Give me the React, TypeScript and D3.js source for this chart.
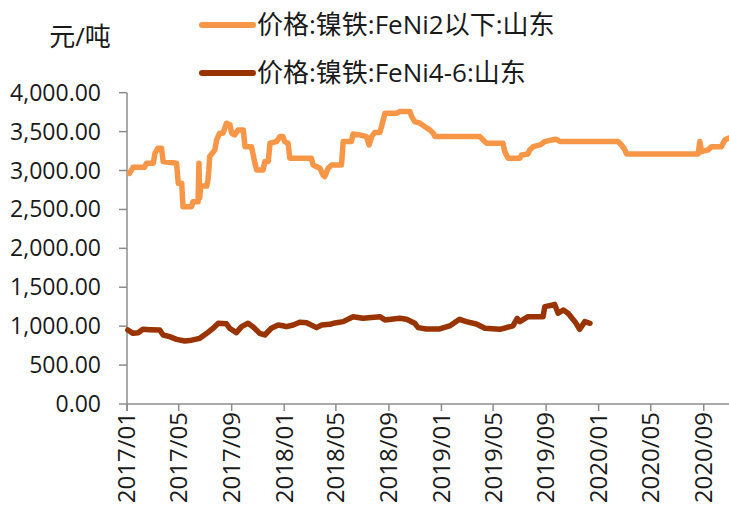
import React from "react";
import * as d3 from "d3";

// 价格:镍铁:FeNi2以下:山东 (weekly, step-like)
const lowNiDates = [
  "2017-01-07", "2017-01-15", "2017-02-11", "2017-02-15", "2017-03-03", "2017-03-07",
  "2017-03-14", "2017-03-22", "2017-03-26", "2017-04-26", "2017-04-30", "2017-05-08",
  "2017-05-11", "2017-05-31", "2017-06-03", "2017-06-15", "2017-06-17", "2017-06-19",
  "2017-06-21", "2017-07-05", "2017-07-08", "2017-07-10", "2017-07-12", "2017-07-24",
  "2017-07-28", "2017-08-04", "2017-08-12", "2017-08-20", "2017-08-28", "2017-09-01",
  "2017-09-08", "2017-09-16", "2017-09-28", "2017-10-02", "2017-10-17", "2017-10-25",
  "2017-10-29", "2017-11-13", "2017-11-17", "2017-11-25", "2017-11-29", "2017-12-14",
  "2017-12-22", "2017-12-29", "2018-01-02", "2018-01-10", "2018-01-14", "2018-03-05",
  "2018-03-09", "2018-03-25", "2018-04-01", "2018-04-05", "2018-04-13", "2018-04-21",
  "2018-05-14", "2018-05-18", "2018-06-06", "2018-06-10", "2018-06-25", "2018-07-11",
  "2018-07-17", "2018-07-23", "2018-07-30", "2018-08-11", "2018-08-15", "2018-08-23",
  "2018-09-19", "2018-09-26", "2018-10-20", "2018-10-24", "2018-10-31", "2018-11-12",
  "2018-11-23", "2018-12-05", "2018-12-13", "2018-12-17", "2019-03-31", "2019-04-08",
  "2019-04-16", "2019-05-24", "2019-05-28", "2019-06-05", "2019-07-02", "2019-07-06",
  "2019-07-21", "2019-07-25", "2019-08-02", "2019-08-18", "2019-08-29", "2019-09-14",
  "2019-09-25", "2019-10-03", "2020-02-15", "2020-02-23", "2020-03-02", "2020-03-06",
  "2020-08-19", "2020-08-23", "2020-08-27", "2020-09-11", "2020-09-19", "2020-10-12",
  "2020-10-20", "2020-10-28",
];
const lowNiValues = [
  2965, 3042, 3042, 3094, 3094, 3222,
  3287, 3287, 3115, 3094, 2837, 2837,
  2536, 2536, 2600, 2600, 3094, 2650,
  2800, 2800, 2880, 3000, 3180, 3265,
  3393, 3479, 3480, 3608, 3586, 3479,
  3458, 3522, 3522, 3307, 3307, 3094,
  3008, 3008, 3115, 3115, 3351, 3372,
  3436, 3436, 3372, 3351, 3158, 3158,
  3072, 3030, 2943, 2922, 3030, 3072,
  3072, 3372, 3372, 3470, 3458, 3436,
  3329, 3436, 3487, 3487, 3565, 3736,
  3736, 3757, 3757, 3693, 3629, 3608,
  3565, 3522, 3479, 3436, 3436, 3393,
  3351, 3351, 3243, 3158, 3158, 3200,
  3213, 3265, 3307, 3329, 3372, 3393,
  3402, 3372, 3372, 3329, 3265, 3213,
  3213, 3372, 3243, 3265, 3307, 3307,
  3393, 3415,
];

// 价格:镍铁:FeNi4-6:山东
const midNiDates = [
  "2017-01-03", "2017-01-15", "2017-01-27", "2017-02-07", "2017-02-23", "2017-03-18",
  "2017-03-26", "2017-04-10", "2017-04-26", "2017-05-15", "2017-05-31", "2017-06-19",
  "2017-07-05", "2017-07-20", "2017-08-01", "2017-08-20", "2017-08-28", "2017-09-12",
  "2017-09-24", "2017-10-09", "2017-10-21", "2017-11-05", "2017-11-17", "2017-12-02",
  "2017-12-18", "2017-12-29", "2018-01-06", "2018-01-22", "2018-02-06", "2018-02-22",
  "2018-03-17", "2018-03-29", "2018-04-17", "2018-04-25", "2018-05-18", "2018-06-10",
  "2018-07-03", "2018-08-11", "2018-08-23", "2018-09-26", "2018-10-12", "2018-10-31",
  "2018-11-08", "2018-11-27", "2018-12-28", "2019-01-20", "2019-02-12", "2019-02-28",
  "2019-03-23", "2019-04-12", "2019-05-17", "2019-06-16", "2019-06-26", "2019-07-02",
  "2019-07-21", "2019-08-25", "2019-08-29", "2019-09-17", "2019-09-21", "2019-09-29",
  "2019-10-11", "2019-10-22", "2019-11-07", "2019-11-18", "2019-11-30", "2019-12-12",
];
const midNiValues = [
  951, 908, 915, 960, 955, 950,
  887, 865, 831, 810, 820, 844,
  908, 973, 1037, 1030, 970, 917,
  994, 1037, 990, 908, 887, 973,
  1015, 1005, 994, 1015, 1050, 1045,
  981, 1015, 1024, 1037, 1058, 1122,
  1101, 1122, 1080, 1101, 1090, 1037,
  981, 964, 964, 1003, 1088, 1058,
  1028, 973, 960, 1003, 1101, 1058,
  1122, 1122, 1251, 1272, 1280, 1166,
  1208, 1166, 1058, 960, 1058, 1037,
];

const yTicks = [0, 500, 1000, 1500, 2000, 2500, 3000, 3500, 4000];
const xTickLabels = [
  "2017/01", "2017/05", "2017/09", "2018/01", "2018/05", "2018/09",
  "2019/01", "2019/05", "2019/09", "2020/01", "2020/05", "2020/09",
];

const seriesNames = ["价格:镍铁:FeNi2以下:山东", "价格:镍铁:FeNi4-6:山东"];
const colors = ["#F79646", "#993300"];

const W = 729;
const H = 513;
const font = "'Open Sans', 'Noto Sans CJK SC', sans-serif";

const parse = d3.timeParse("%Y-%m-%d");

export default function App() {
  const x = d3
    .scaleTime()
    .domain([parse("2017-01-01"), parse("2020-11-01")])
    .range([127, 730]);
  const y = d3.scaleLinear().domain([0, 4000]).range([404, 92.7]);

  const line = d3
    .line<[Date, number]>()
    .x((d) => x(d[0]))
    .y((d) => y(d[1]));

  const series = [
    lowNiDates.map((d, i) => [parse(d), lowNiValues[i]] as [Date, number]),
    midNiDates.map((d, i) => [parse(d), midNiValues[i]] as [Date, number]),
  ];

  const fmt = d3.format(",.2f");
  const tickDates = xTickLabels.map((s) => d3.timeParse("%Y/%m")(s) as Date);
  const axisColor = "#8c8c8c";

  return (
    <svg
      width={W}
      height={H}
      style={{ position: "absolute", left: 0, top: 0, background: "#fff" }}
      fontFamily={font}
    >
      {/* unit label */}
      <text x={80} y={46} fontSize={26} textAnchor="middle" fill="#1a1a1a">
        元/吨
      </text>

      {/* legend */}
      {seriesNames.map((name, i) => (
        <g key={name} transform={`translate(0,${25 + i * 48})`}>
          <line x1={202} x2={253} y1={0} y2={0} stroke={colors[i]} strokeWidth={6} strokeLinecap="round" />
          <text x={257} y={0} dy="0.35em" fontSize={26} fill="#1a1a1a">
            {name}
          </text>
        </g>
      ))}

      {/* y axis */}
      <line x1={127} x2={127} y1={y(4000)} y2={411} stroke={axisColor} strokeWidth={1.5} />
      {yTicks.map((t) => (
        <g key={t}>
          <line x1={119} x2={127} y1={y(t)} y2={y(t)} stroke={axisColor} strokeWidth={1.5} />
          <text x={101} y={y(t)} dy="0.35em" fontSize={23} textAnchor="end" fill="#1a1a1a">
            {fmt(t)}
          </text>
        </g>
      ))}

      {/* x axis */}
      <line x1={127} x2={729} y1={404} y2={404} stroke={axisColor} strokeWidth={1.5} />
      {tickDates.map((d, i) => (
        <g key={xTickLabels[i]} transform={`translate(${x(d)},0)`}>
          <line x1={0} x2={0} y1={404} y2={411} stroke={axisColor} strokeWidth={1.5} />
          <text
            transform="translate(0,412) rotate(-90)"
            dy="0.35em"
            fontSize={24}
            textAnchor="end"
            fill="#1a1a1a"
          >
            {xTickLabels[i]}
          </text>
        </g>
      ))}

      {/* series */}
      {series.map((s, i) => (
        <path
          key={i}
          d={line(s) || ""}
          fill="none"
          stroke={colors[i]}
          strokeWidth={5.5}
          strokeLinejoin="round"
          strokeLinecap="round"
        />
      ))}
    </svg>
  );
}
